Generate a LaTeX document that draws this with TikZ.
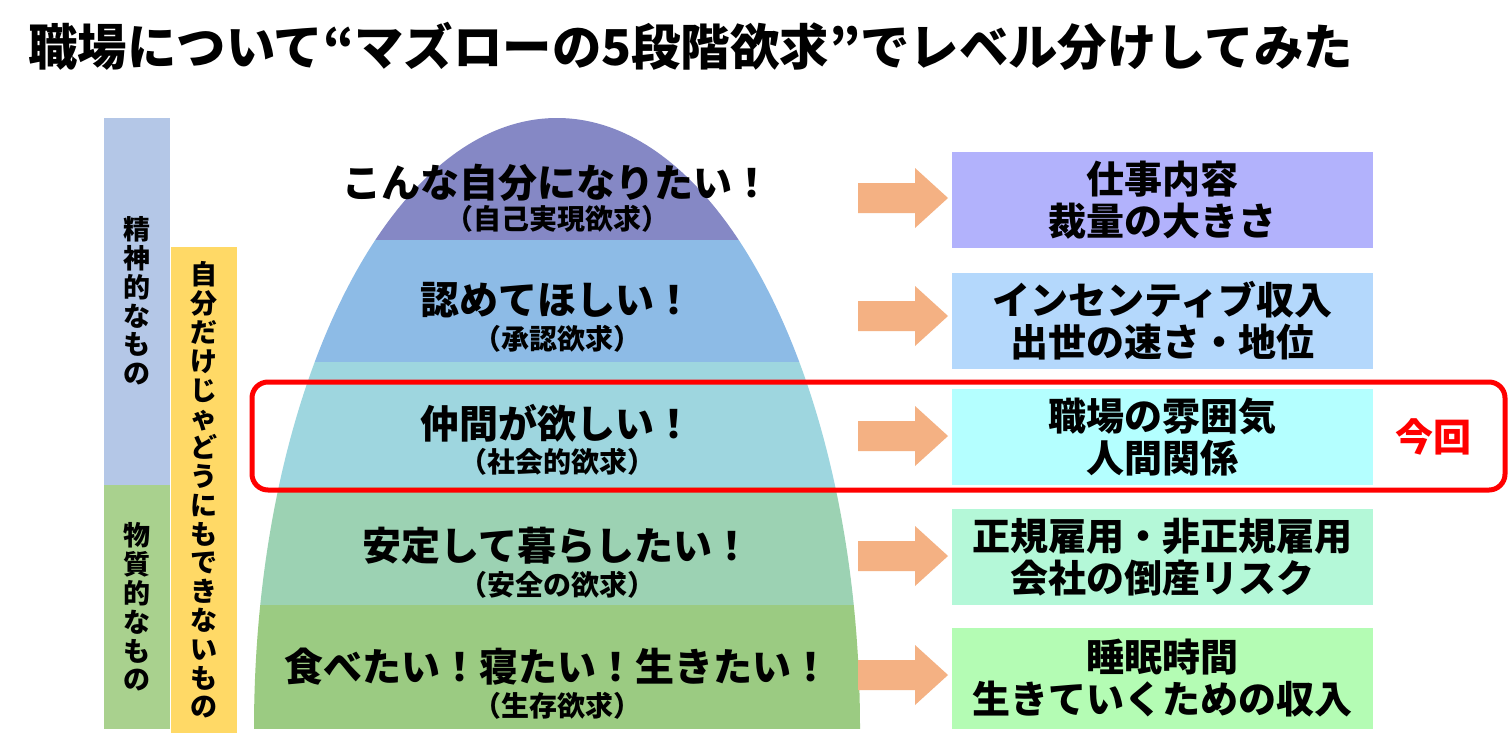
\documentclass[tikz,border=0pt]{standalone}
\usepackage{fontspec}
\setmainfont{Noto Sans CJK JP}
\usetikzlibrary{positioning}

\definecolor{lvself}{HTML}{8588C5}
\definecolor{lvesteem}{HTML}{8DBBE6}
\definecolor{lvsocial}{HTML}{9ED6DF}
\definecolor{lvsafety}{HTML}{9CD2B3}
\definecolor{lvbody}{HTML}{9BCB82}
\definecolor{bxself}{HTML}{B2B2FC}
\definecolor{bxesteem}{HTML}{B4D8FC}
\definecolor{bxsocial}{HTML}{B4FFFF}
\definecolor{bxsafety}{HTML}{B4F8D8}
\definecolor{bxbody}{HTML}{B4FCB4}
\definecolor{colmind}{HTML}{B4C7E7}
\definecolor{colmatter}{HTML}{A9D18E}
\definecolor{colself}{HTML}{FFD966}
\definecolor{fatarrow}{HTML}{F4B183}

\tikzset{%
	want/.style={font=\bfseries\fontsize{19.5}{21}\selectfont},
	kind/.style={font=\bfseries\fontsize{14}{15}\selectfont},
	factor/.style={minimum width=210.5pt,minimum height=48pt,inner sep=0pt,align=center,font=\bfseries\fontsize{19}{21}\selectfont},
	tategaki/.style={align=center,inner sep=0pt,font=\bfseries\fontsize{13.5}{14.4}\selectfont},
}

\begin{document}
\begin{tikzpicture}[x=0.5pt,y=-0.5pt]
	\useasboundingbox[fill=white] (0,0) rectangle (1508,750);

	%TITLE
	\node[anchor=west,inner sep=0pt,font=\bfseries\fontsize{24.7}{25}\selectfont] (title) at (28,46) {職場について“マズローの5段階欲求”でレベル分けしてみた};

	%LEVI STOLPCI
	\fill[colmind] (104,118) rectangle (170,485);
	\fill[colmatter] (104,485) rectangle (170,729);
	\fill[colself] (171,247) rectangle (237,733);
	\node[tategaki] (mind) at (137,301) {精\\神\\的\\な\\も\\の};
	\node[tategaki] (matter) at (137,607) {物\\質\\的\\な\\も\\の};
	\node[tategaki] (alone) at (204,490) {自\\分\\だ\\け\\じ\\ゃ\\ど\\う\\に\\も\\で\\き\\な\\い\\も\\の};

	%PIRAMIDA
	\begin{scope}
		\clip (254,729) arc[start angle=180,end angle=0,x radius=151.5pt,y radius=305.5pt] -- cycle;
		\fill[lvself] (240,100) rectangle (870,240);
		\fill[lvesteem] (240,240) rectangle (870,362);
		\fill[lvsocial] (240,362) rectangle (870,487);
		\fill[lvsafety] (240,487) rectangle (870,605);
		\fill[lvbody] (240,605) rectangle (870,729);
	\end{scope}

	\node[want] (w1) at (557,183) {こんな自分になりたい！};
	\node[kind] (k1) at (557,219) {（自己実現欲求）};
	\node[want] (w2) at (557,300) {認めてほしい！};
	\node[kind] (k2) at (557,339) {（承認欲求）};
	\node[want] (w3) at (557,423) {仲間が欲しい！};
	\node[kind] (k3) at (557,462) {（社会的欲求）};
	\node[want] (w4) at (557,546) {安定して暮らしたい！};
	\node[kind] (k4) at (557,585) {（安全の欲求）};
	\node[want] (w5) at (557,667) {食べたい！寝たい！生きたい！};
	\node[kind] (k5) at (557,706) {（生存欲求）};

	%PUSCICE
	\foreach \cy in {198,316,436,556,675}
		\fill[fatarrow] (858,{\cy-15}) -- (915,{\cy-15}) -- (915,{\cy-30}) -- (948,\cy) -- (915,{\cy+30}) -- (915,{\cy+15}) -- (858,{\cy+15}) -- cycle;

	%ZNACILNOSTI
	\node[factor,fill=bxself] (f1) at (1162.5,200) {仕事内容\\裁量の大きさ};
	\node[factor,fill=bxesteem] (f2) at (1162.5,321) {インセンティブ収入\\出世の速さ・地位};
	\node[factor,fill=bxsocial] (f3) at (1162.5,437) {職場の雰囲気\\人間関係};
	\node[factor,fill=bxsafety] (f4) at (1162.5,557) {正規雇用・非正規雇用\\会社の倒産リスク};
	\node[factor,fill=bxbody,minimum height=50.5pt] (f5) at (1162.5,678.5) {睡眠時間\\生きていくための収入};

	%OZNAKA
	\draw[red,line width=2.5pt,rounded corners=8pt] (252,382) rectangle (1505,490);
	\node[red,font=\bfseries\fontsize{19}{19}\selectfont] (now) at (1433,437) {今回};
\end{tikzpicture}
\end{document}
